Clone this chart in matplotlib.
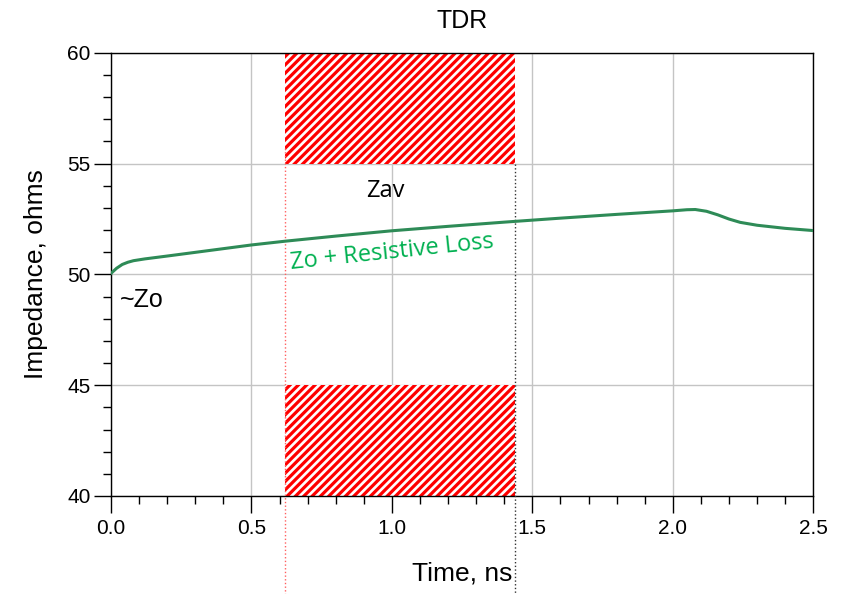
import matplotlib
matplotlib.use("Agg")
import matplotlib.pyplot as plt
from matplotlib.patches import Rectangle
from matplotlib.ticker import MultipleLocator, FormatStrFormatter

# Data
time_ns = [0, 0.02, 0.04, 0.06, 0.08, 0.12, 0.2, 0.35, 0.5, 0.62, 0.8, 1.0, 1.2,
           1.4, 1.6, 1.8, 2.0, 2.05, 2.08, 2.12, 2.16, 2.2, 2.24, 2.3, 2.4, 2.5]
impedance = [50.05, 50.28, 50.45, 50.55, 50.62, 50.7, 50.83, 51.08, 51.33, 51.5,
             51.73, 51.97, 52.17, 52.36, 52.54, 52.71, 52.87, 52.92, 52.93, 52.85,
             52.69, 52.5, 52.35, 52.22, 52.08, 51.98]
window_start = 0.62
window_end = 1.44
upper_band = (55, 60)
lower_band = (40, 45)

plt.rcParams['font.family'] = ['Liberation Sans', 'DejaVu Sans']
plt.rcParams['hatch.linewidth'] = 2.3

fig = plt.figure(figsize=(8.41, 5.94), dpi=100)
ax = fig.add_axes([0.132, 0.165, 0.835, 0.746])

ax.set_xlim(0, 2.5)
ax.set_ylim(40, 60)
ax.xaxis.set_major_locator(MultipleLocator(0.5))
ax.xaxis.set_minor_locator(MultipleLocator(0.1))
ax.yaxis.set_major_locator(MultipleLocator(5))
ax.yaxis.set_minor_locator(MultipleLocator(1))
ax.xaxis.set_major_formatter(FormatStrFormatter('%.1f'))
ax.grid(True, which='major', color='#c4c4c4', linewidth=1.0, zorder=0)
ax.set_axisbelow(True)
ax.tick_params(which='major', direction='out', length=12.5, width=1, labelsize=15)
ax.tick_params(axis='x', which='major', pad=4)
ax.tick_params(axis='y', which='major', pad=2)
ax.tick_params(which='minor', direction='out', length=6, width=1)
for s in ax.spines.values():
    s.set_color('black')
    s.set_linewidth(1.0)

for (y0, y1) in (upper_band, lower_band):
    ax.add_patch(Rectangle((window_start, y0), window_end - window_start, y1 - y0,
                           facecolor='white', edgecolor='red', hatch='////',
                           linewidth=0, zorder=2))

ax.plot([window_start, window_start], [55.7, 35.4], color='#ff6060', linestyle=':',
        linewidth=1.0, clip_on=False, zorder=3)
ax.plot([window_end, window_end], [55, 35.4], color='#333333', linestyle=':',
        linewidth=1.0, clip_on=False, zorder=3)

ax.plot(time_ns, impedance, color='#2e8b57', linewidth=2.2, zorder=4)

ax.text(0.975, 53.75, 'Zav', fontsize=17, ha='center', va='center', color='black',
        family=['Open Sans', 'DejaVu Sans'])
ax.text(0.03, 48.85, '~Zo', fontsize=18, ha='left', va='center', color='black')
ax.text(1.0, 51.0, 'Zo + Resistive Loss', fontsize=17, ha='center', va='center',
        color='#00b050', rotation=6, family=['Open Sans', 'DejaVu Sans'])

ax.set_title('TDR', fontsize=18, pad=18)
ax.set_xlabel('Time, ns', fontsize=19, labelpad=17)
ax.set_ylabel('Impedance, ohms', fontsize=19, labelpad=14)

fig.savefig('out.png', dpi=100)
